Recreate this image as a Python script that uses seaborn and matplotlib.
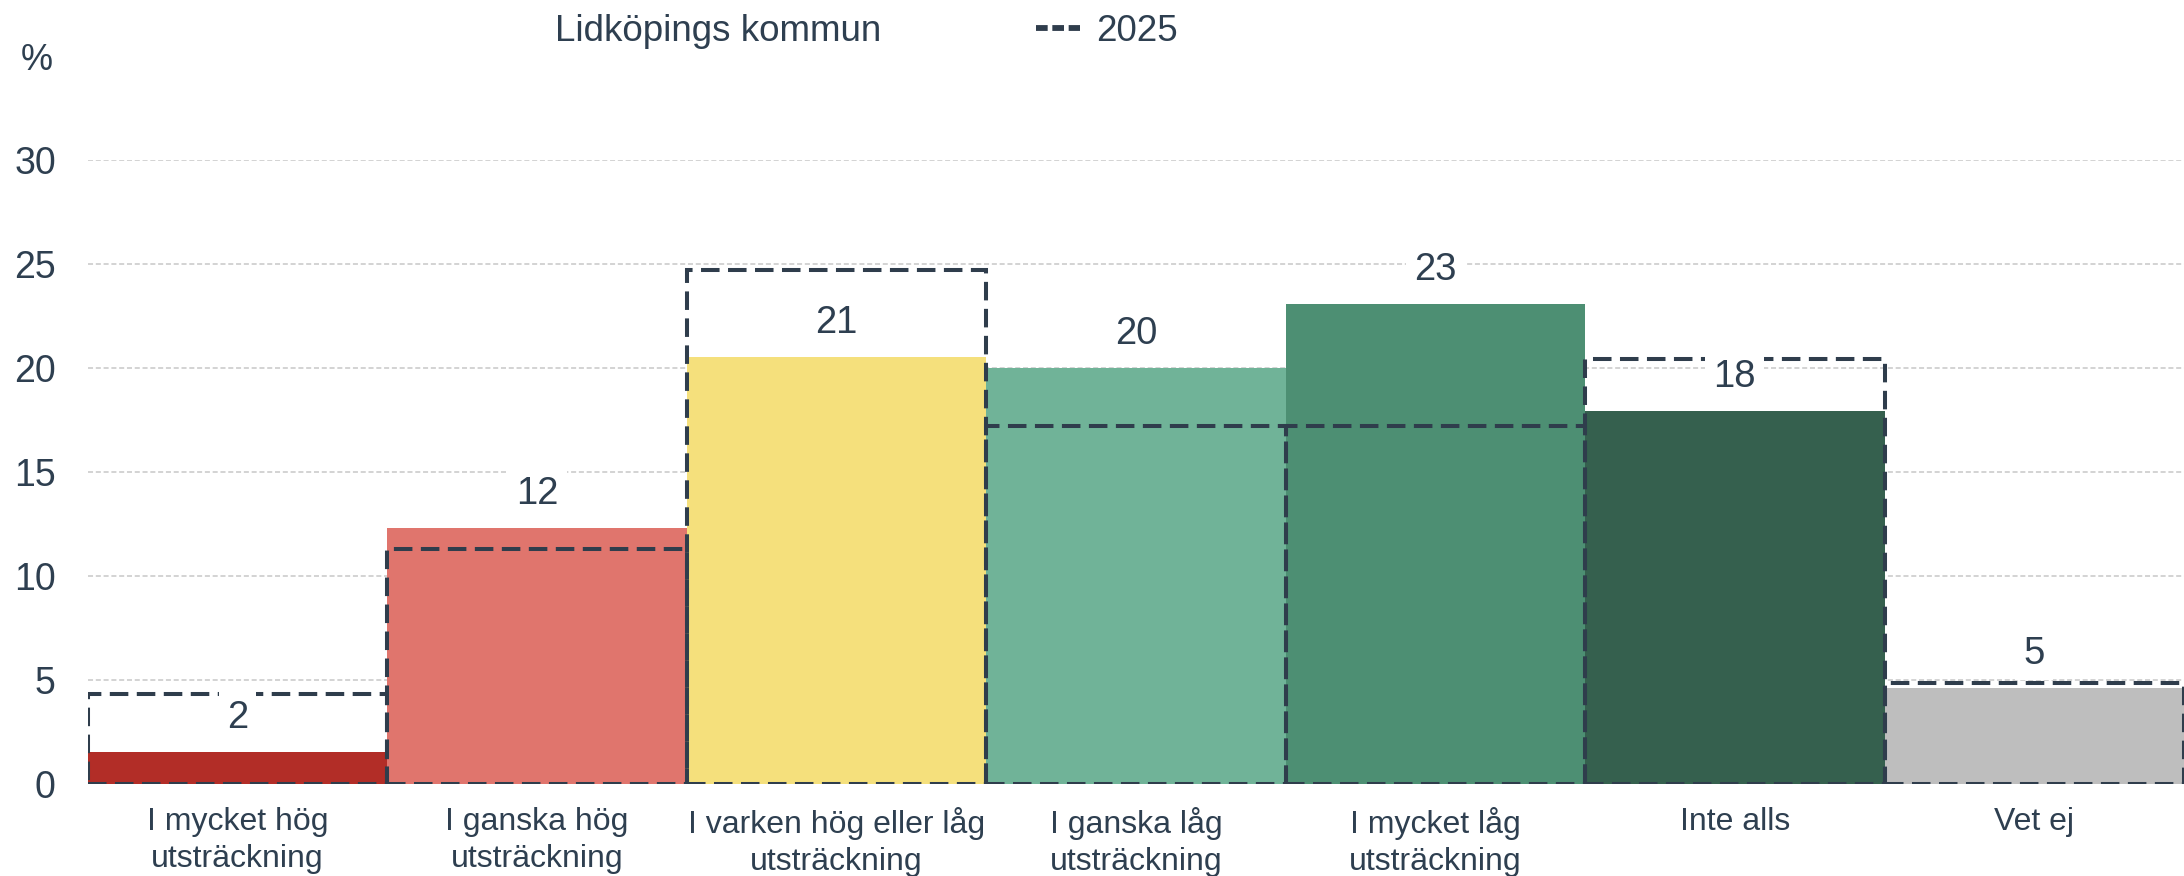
import numpy as np
import pandas as pd
import matplotlib
matplotlib.use('Agg')
import matplotlib.pyplot as plt
import seaborn as sns
from matplotlib.lines import Line2D
from matplotlib.patches import Patch

categories = ['I mycket hög\nutsträckning', 'I ganska hög\nutsträckning',
              'I varken hög eller låg\nutsträckning', 'I ganska låg\nutsträckning',
              'I mycket låg\nutsträckning', 'Inte alls', 'Vet ej']
kommun_values = [1.57, 12.34, 20.54, 20.01, 23.09, 17.95, 4.65]
values_2025 = [4.33, 11.31, 24.74, 17.23, 17.23, 20.45, 4.86]
bar_colors = ['#b22d27', '#e0756d', '#f5e07c', '#70b398', '#4d8f73', '#35604e', '#bebebe']
yticks = [0, 5, 10, 15, 20, 25, 30]

text_color = '#2e3f50'
dash_color = '#2f3d4c'

sns.set_style('white')
plt.rcParams['font.family'] = ['Liberation Sans', 'DejaVu Sans']

df = pd.DataFrame({'category': categories, 'value': kommun_values, 'v2025': values_2025})

fig = plt.figure(figsize=(21.84, 8.76), dpi=100)
ax = fig.add_axes([0.0402, 0.1047, 0.9598, 0.7123])

sns.barplot(data=df, x='category', y='value', hue='category', palette=bar_colors,
            width=1.0, saturation=1, legend=False, ax=ax, zorder=2, linewidth=0)

# 2025 outlines
ax.bar(np.arange(len(categories)), df['v2025'], width=1.0, fill=False,
       edgecolor=dash_color, linestyle=(0, (4.6, 2.1)), linewidth=2.9, zorder=4)

for i, v in enumerate(kommun_values):
    ax.annotate(f'{round(v):d}', xy=(i, v), xytext=(0, 24.5), textcoords='offset points',
                ha='center', va='center', fontsize=27.5, color=text_color, zorder=5,
                bbox=dict(facecolor='white', edgecolor='none', pad=6))

ax.set_xlim(-0.5, 6.5)
ax.set_ylim(0, 30)
ax.set_yticks(yticks)
ax.yaxis.grid(True, color='#c8c8c8', linestyle=(0, (3.3, 1.8)), linewidth=1.1, zorder=0)
ax.set_axisbelow(True)
ax.axhline(0, color='#9aa0a8', linestyle=(0, (4, 2)), linewidth=1.5, zorder=1)
for s in ax.spines.values():
    s.set_visible(False)
ax.tick_params(axis='y', length=0, pad=23, labelsize=27, labelcolor=text_color)
ax.tick_params(axis='x', length=0, pad=16, labelsize=23, labelcolor=text_color)
ax.set_xlabel('')
ax.set_ylabel('')
for lbl in ax.get_xticklabels():
    lbl.set_linespacing(1.32)

fig.text(37 / 2184, 1 - 60 / 876, '%', ha='center', va='center', fontsize=26, color=text_color)

handles = [Patch(facecolor='none', edgecolor='none'),
           Line2D([0], [0], color=dash_color, linestyle=(0, (2.0, 0.8)), linewidth=4.2)]
fig.legend(handles, ['Lidköpings kommun', '2025'], loc='upper left',
           bbox_to_anchor=(494 / 2184, 1 - 14 / 876), ncol=2, frameon=False,
           fontsize=26.5, labelcolor=text_color, handlelength=1.2, handletextpad=0.45,
           columnspacing=4.2, borderpad=0, borderaxespad=0)

fig.savefig('out.png', dpi=100)
